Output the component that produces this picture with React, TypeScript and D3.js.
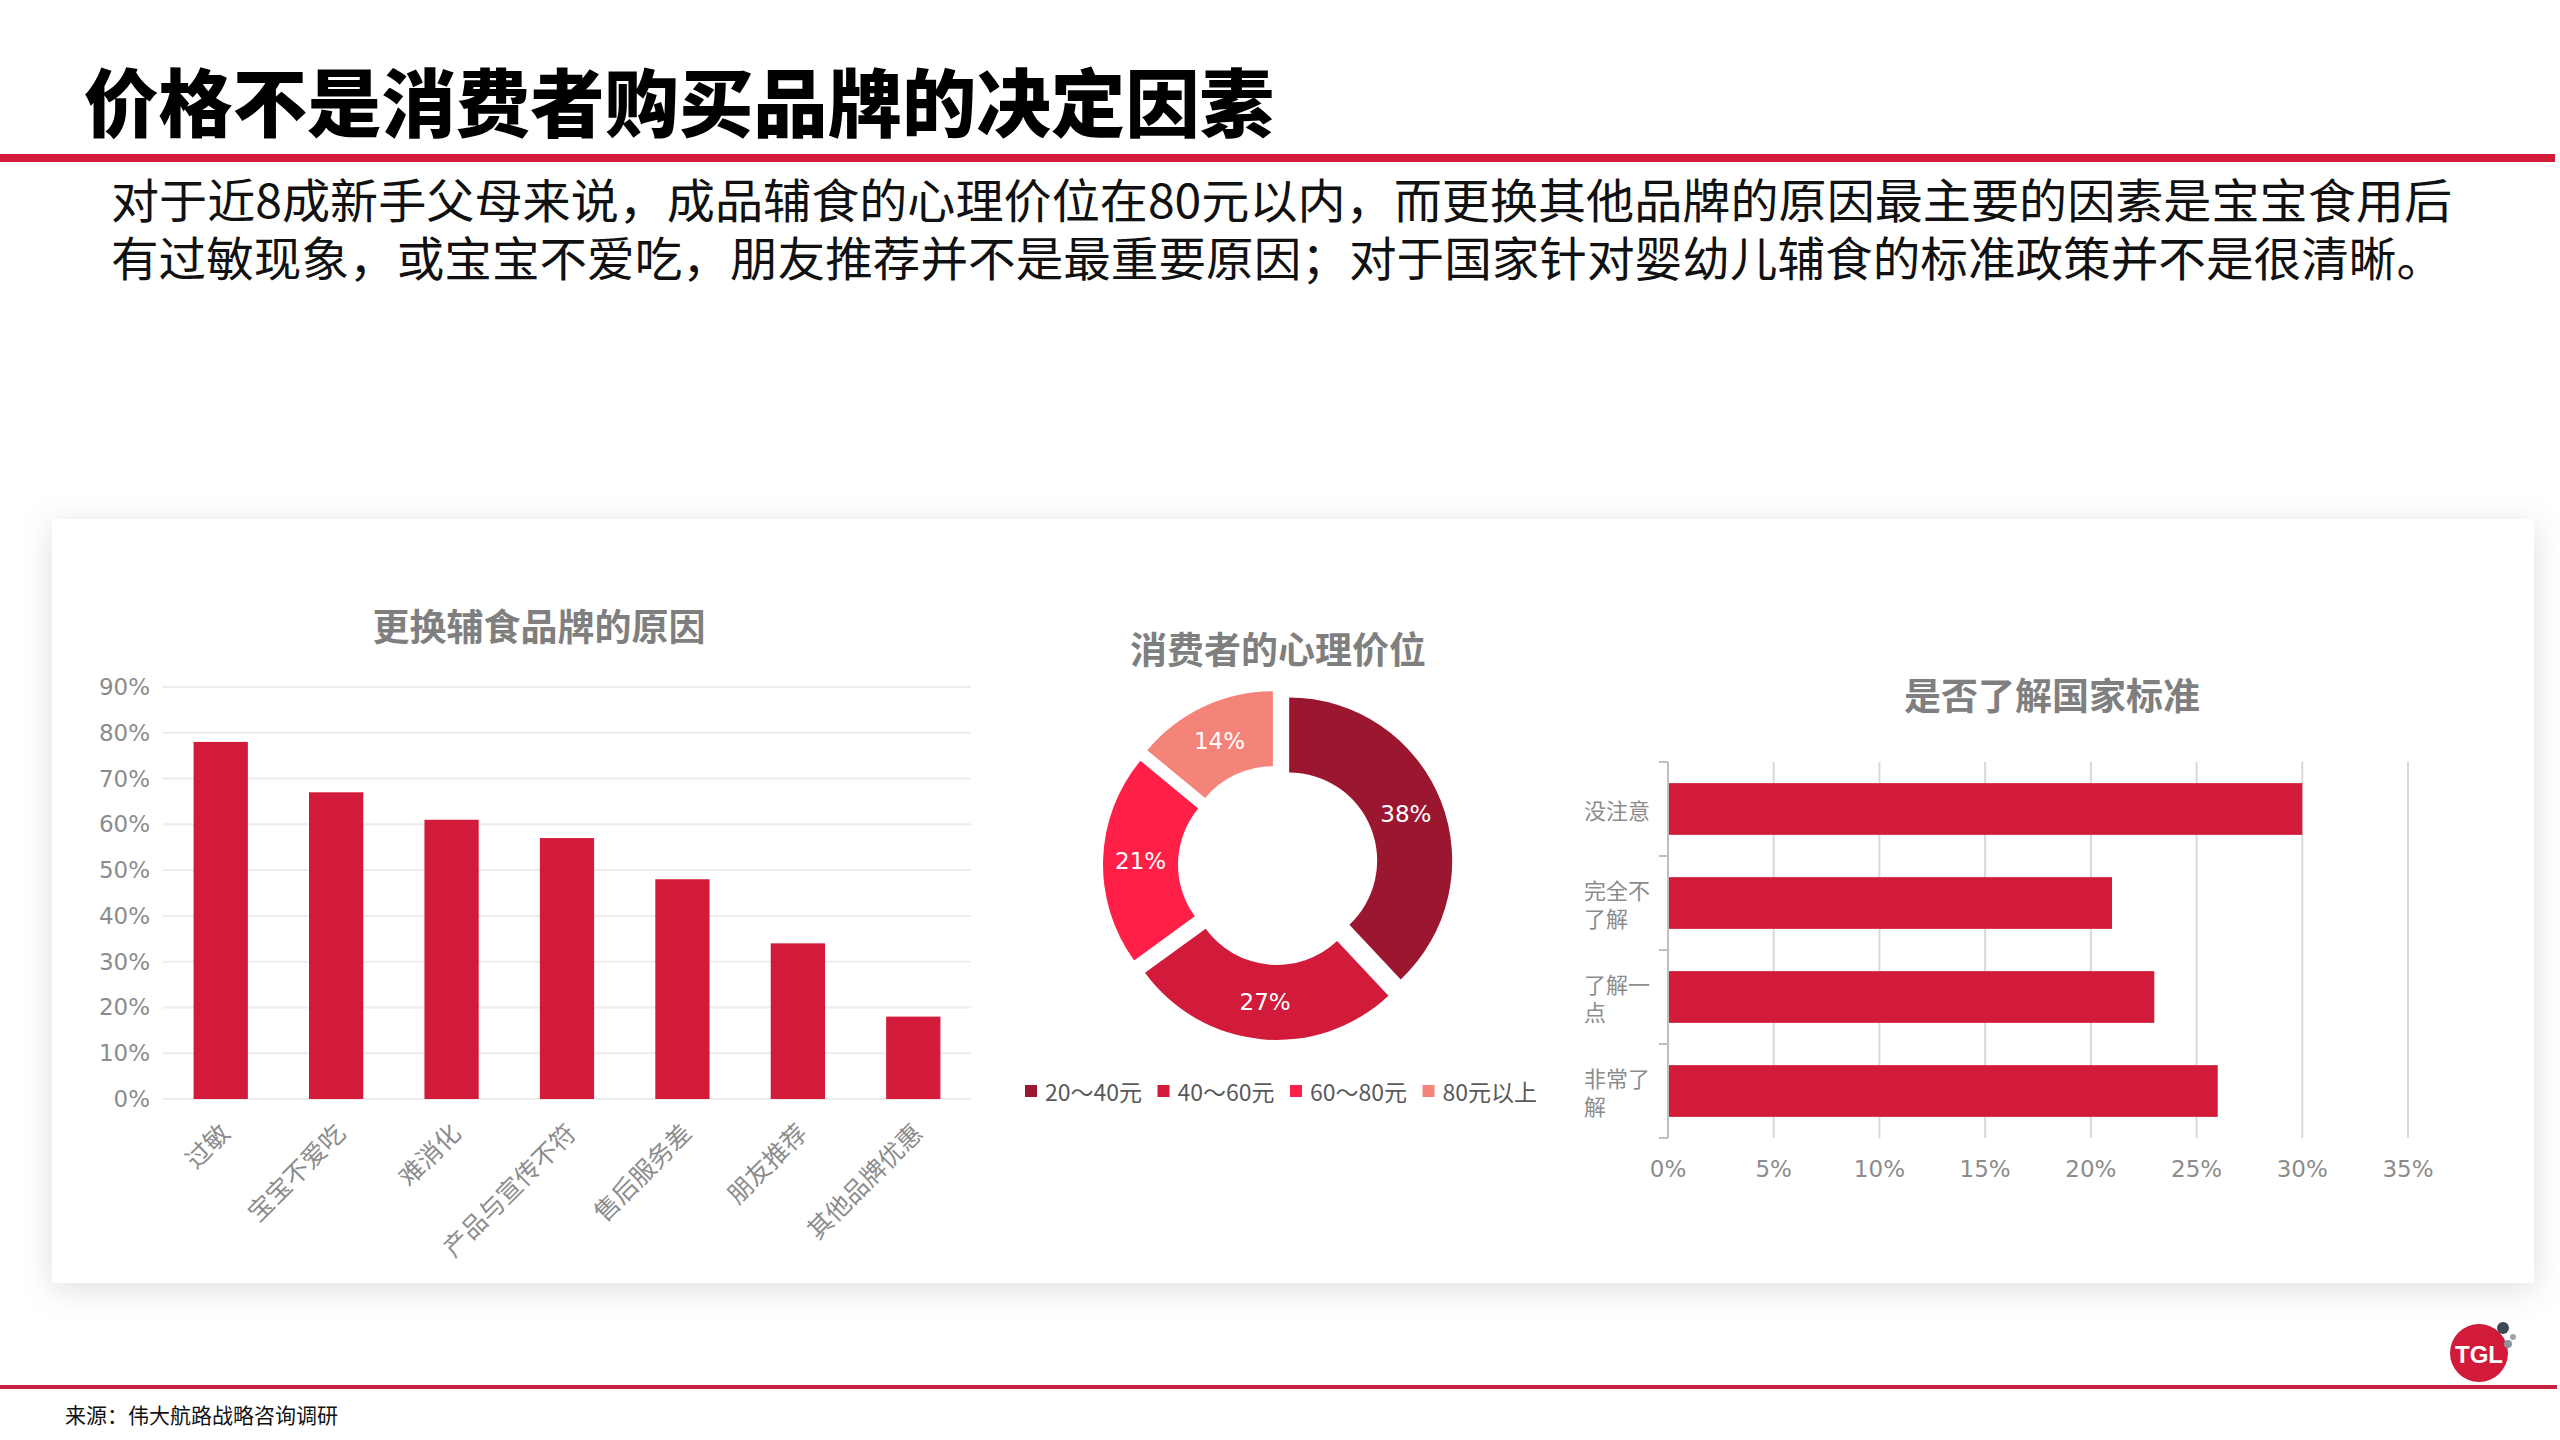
import React from 'react';
import * as d3 from 'd3';

const W = 2560;
const H = 1440;
const RED = '#d21a3a';
const TITLE_GRAY = '#7f7f7f';
const AXIS_TEXT = '#8c8c8c';
const FONT = '"Noto Sans CJK SC", "Noto Sans", sans-serif';
const NUM_FONT = '"DejaVu Sans", "Noto Sans", sans-serif';

// ---- text ----
const headline = '价格不是消费者购买品牌的决定因素';
const bodyLines = [
  '对于近8成新手父母来说，成品辅食的心理价位在80元以内，而更换其他品牌的原因最主要的因素是宝宝食用后',
  '有过敏现象，或宝宝不爱吃，朋友推荐并不是最重要原因；对于国家针对婴幼儿辅食的标准政策并不是很清晰。',
];
const sourceText = '来源：伟大航路战略咨询调研';

// ---- chart 1: reasons ----
const reasonTitle = '更换辅食品牌的原因';
const reasonCats = ['过敏', '宝宝不爱吃', '难消化', '产品与宣传不符', '售后服务差', '朋友推荐', '其他品牌优惠'];
const reasonVals = [0.78, 0.67, 0.61, 0.57, 0.48, 0.34, 0.18];
const reasonTicks = [0, 0.1, 0.2, 0.3, 0.4, 0.5, 0.6, 0.7, 0.8, 0.9];

// ---- chart 2: price ----
const priceTitle = '消费者的心理价位';
const priceCats = ['20～40元', '40～60元', '60～80元', '80元以上'];
const priceVals = [0.38, 0.27, 0.21, 0.14];
const priceColors = ['#9b1730', '#d21a3a', '#ff1f47', '#f4837a'];

// ---- chart 3: standards ----
const stdTitle = '是否了解国家标准';
const stdCats = ['没注意', '完全不了解', '了解一点', '非常了解'];
const stdVals = [0.30, 0.21, 0.23, 0.26];
const stdTicks = [0, 0.05, 0.1, 0.15, 0.2, 0.25, 0.3, 0.35];

function wrap(s: string, n: number): string[] {
  const out: string[] = [];
  for (let i = 0; i < s.length; i += n) out.push(s.slice(i, i + n));
  return out;
}

export default function App() {
  const pct = d3.format('.0%');

  // chart 1 scales
  const x1 = d3.scaleBand<string>().domain(reasonCats).range([163, 971]).paddingInner(0.53).paddingOuter(0.265);
  const y1 = d3.scaleLinear().domain([0, 0.9]).range([1099, 687]);

  // chart 2
  const cx = 1278;
  const cy = 865;
  const explode = 12;
  const pieData = d3.pie<number>().sort(null).value((d) => d)(priceVals);
  const arcGen = d3.arc<d3.PieArcDatum<number>>().innerRadius(88).outerRadius(163);

  // chart 3
  const x3 = d3.scaleLinear().domain([0, 0.35]).range([1668, 2408]);
  const y3 = d3.scaleBand<string>().domain(stdCats).range([762, 1138]).paddingInner(0.45).paddingOuter(0.225);
  const stepY = y3.step();

  return (
    <svg
      width={W}
      height={H}
      viewBox={`0 0 ${W} ${H}`}
      style={{ position: 'absolute', left: 0, top: 0, display: 'block', background: '#fff' }}
    >
      <defs>
        <filter id="cardShadow" x="-5%" y="-10%" width="110%" height="120%">
          <feDropShadow dx="0" dy="6" stdDeviation="16" floodColor="#000" floodOpacity="0.13" />
        </filter>
      </defs>
      <rect x={0} y={0} width={W} height={H} fill="#fff" />

      {/* headline */}
      <text
        x={84}
        y={98}
        fontFamily={FONT}
        fontWeight={900}
        fontSize={74}
        fill="#000"
        dominantBaseline="central"
        textLength={1190}
        lengthAdjust="spacingAndGlyphs"
      >
        {headline}
      </text>
      <rect x={0} y={154} width={2555} height={8} fill={RED} />

      {/* body text */}
      {bodyLines.map((t, i) => (
        <text
          key={i}
          x={111}
          y={197 + i * 58}
          fontFamily={FONT}
          fontSize={47}
          fill="#111"
          dominantBaseline="central"
          textLength={i === 0 ? 2341 : 2333}
          lengthAdjust="spacingAndGlyphs"
        >
          {t}
        </text>
      ))}

      {/* card */}
      <rect x={52} y={519} width={2482} height={764} fill="#fff" filter="url(#cardShadow)" />

      {/* ===== chart 1 ===== */}
      <text x={539} y={625} textAnchor="middle" dominantBaseline="central" fontFamily={FONT} fontWeight={700} fontSize={37} fill={TITLE_GRAY}>
        {reasonTitle}
      </text>
      {reasonTicks.map((t) => (
        <g key={t}>
          <line x1={163} x2={971} y1={y1(t)} y2={y1(t)} stroke="#ececec" strokeWidth={2} />
          <text x={150} y={y1(t)} textAnchor="end" dominantBaseline="central" fontFamily={NUM_FONT} fontSize={23} fill={AXIS_TEXT}>
            {pct(t)}
          </text>
        </g>
      ))}
      {reasonCats.map((c, i) => (
        <rect key={c} x={x1(c)} y={y1(reasonVals[i])} width={x1.bandwidth()} height={y1(0) - y1(reasonVals[i])} fill={RED} />
      ))}
      {reasonCats.map((c) => {
        const px = (x1(c) as number) + x1.bandwidth() / 2 + 3;
        const py = 1127;
        return (
          <text
            key={c}
            transform={`translate(${px},${py}) rotate(-45)`}
            textAnchor="end"
            dominantBaseline="central"
            fontFamily={FONT}
            fontSize={25}
            fill={AXIS_TEXT}
          >
            {c}
          </text>
        );
      })}

      {/* ===== chart 2 ===== */}
      <text x={1278} y={648} textAnchor="middle" dominantBaseline="central" fontFamily={FONT} fontWeight={700} fontSize={37} fill={TITLE_GRAY}>
        {priceTitle}
      </text>
      <g transform={`translate(${cx},${cy})`}>
        {pieData.map((d, i) => {
          const a = (d.startAngle + d.endAngle) / 2;
          const dx = explode * Math.sin(a);
          const dy = -explode * Math.cos(a);
          const [lx, ly] = arcGen.centroid(d);
          return (
            <g key={i} transform={`translate(${dx},${dy})`}>
              <path d={arcGen(d) as string} fill={priceColors[i]} />
              <text x={lx} y={ly} textAnchor="middle" dominantBaseline="central" fontFamily={NUM_FONT} fontSize={23} fill="#fff">
                {pct(d.data)}
              </text>
            </g>
          );
        })}
      </g>
      {priceCats.map((c, i) => {
        const lx = 1025 + i * 132.5;
        return (
          <g key={c}>
            <rect x={lx} y={1091 - 6} width={12} height={12} fill={priceColors[i]} />
            <text x={lx + 20} y={1091} dominantBaseline="central" fontFamily={FONT} fontSize={23} fill="#595959">
              {c}
            </text>
          </g>
        );
      })}

      {/* ===== chart 3 ===== */}
      <text x={2052} y={694} textAnchor="middle" dominantBaseline="central" fontFamily={FONT} fontWeight={700} fontSize={37} fill={TITLE_GRAY}>
        {stdTitle}
      </text>
      {stdTicks.map((t) => (
        <g key={t}>
          {t > 0 && <line x1={x3(t)} x2={x3(t)} y1={762} y2={1138} stroke="#d9d9d9" strokeWidth={2} />}
          <text x={x3(t)} y={1169} textAnchor="middle" dominantBaseline="central" fontFamily={NUM_FONT} fontSize={23} fill={AXIS_TEXT}>
            {pct(t)}
          </text>
        </g>
      ))}
      <line x1={x3(0)} x2={x3(0)} y1={762} y2={1138} stroke="#bfbfbf" strokeWidth={2} />
      {d3.range(stdCats.length + 1).map((k) => (
        <line key={k} x1={x3(0) - 9} x2={x3(0)} y1={762 + k * stepY} y2={762 + k * stepY} stroke="#bfbfbf" strokeWidth={2} />
      ))}
      {stdCats.map((c, i) => (
        <rect key={c} x={x3(0) + 1} y={y3(c)} width={x3(stdVals[i]) - x3(0) - 1} height={y3.bandwidth()} fill={RED} />
      ))}
      {stdCats.map((c) =>
        wrap(c, 3).map((ln, j, lines) => {
          const mid = (y3(c) as number) + y3.bandwidth() / 2;
          const lh = 28;
          return (
            <text
              key={c + j}
              x={1584}
              y={mid + (j - (lines.length - 1) / 2) * lh}
              fontFamily={FONT}
              fontSize={22}
              fill={AXIS_TEXT}
              dominantBaseline="central"
            >
              {ln}
            </text>
          );
        })
      )}

      {/* footer */}
      <rect x={0} y={1385} width={2557} height={4} fill="#c8223f" />
      <text x={65} y={1414} dominantBaseline="central" fontFamily={FONT} fontSize={21} fill="#111">
        {sourceText}
      </text>

      {/* logo */}
      <circle cx={2479} cy={1353} r={29} fill={RED} />
      <text x={2479} y={1354} textAnchor="middle" dominantBaseline="central" fontFamily={'"Liberation Sans", sans-serif'} fontWeight={700} fontSize={24} fill="#fff">
        TGL
      </text>
      <circle cx={2503} cy={1328} r={6} fill="#3d4856" />
      <circle cx={2513} cy={1337} r={3} fill="#9aa3ae" />
      <circle cx={2508} cy={1344} r={4} fill="#8a95a3" />
    </svg>
  );
}
